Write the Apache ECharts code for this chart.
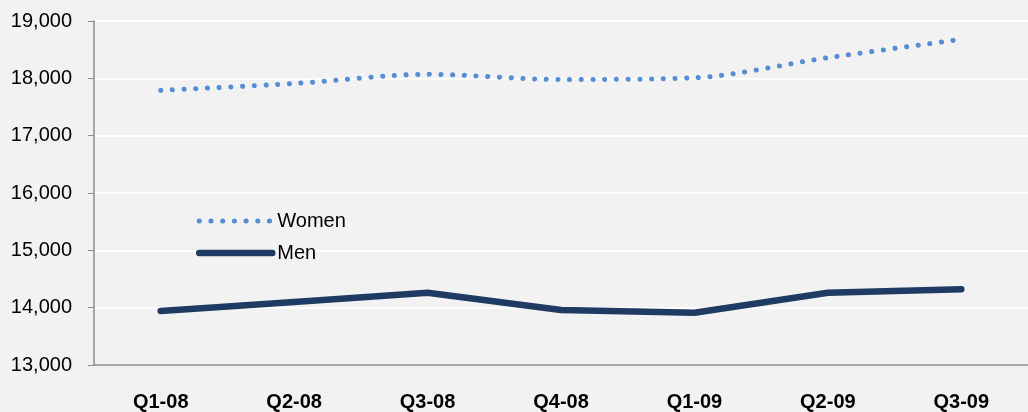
<!DOCTYPE html>
<html>
<head>
<meta charset="utf-8">
<script src="https://cdn.jsdelivr.net/npm/echarts@6/dist/echarts.min.js"></script>
<style>
html, body { margin: 0; padding: 0; background: #f2f2f2; }
#chart { width: 1028px; height: 412px; }
</style>
</head>
<body>
<div id="chart"></div>
<script>
const quarters = ['Q1-08', 'Q2-08', 'Q3-08', 'Q4-08', 'Q1-09', 'Q2-09', 'Q3-09']
const women = [17790, 17910, 18070, 17980, 18010, 18360, 18680]
const men = [13940, 14100, 14260, 13960, 13910, 14260, 14320]

const myChart = echarts.init(document.getElementById('chart'))

const womenLine = { color: '#558ed5', width: 5, type: [0.1, 11.6], cap: 'round' }
const menLine = { color: '#1f3b63', width: 6.5, cap: 'round', join: 'round' }

const option = {
	backgroundColor: '#f2f2f2',
	animation: false,
	grid: { left: 94, top: 21, width: 945, height: 347 },
	legend: {
		orient: 'vertical',
		left: 191,
		top: 206,
		itemWidth: 73,
		itemHeight: 14,
		itemGap: 12,
		itemStyle: { opacity: 0 },
		textStyle: { fontFamily: 'Liberation Sans, Arial', fontSize: 20, color: '#000' },
		data: [
			{ name: 'Women', lineStyle: womenLine },
			{ name: 'Men', lineStyle: menLine }
		]
	},
	xAxis: {
		type: 'category',
		data: quarters,
		boundaryGap: true,
		axisLine: { lineStyle: { color: '#8c8c8c', width: 1.5 } },
		axisTick: { length: 5, lineStyle: { color: '#8c8c8c' } },
		axisLabel: {
			margin: 27,
			fontFamily: 'Liberation Sans, Arial',
			fontSize: 20,
			fontWeight: 'bold',
			color: '#000'
		},
		splitLine: { show: false }
	},
	yAxis: {
		type: 'value',
		min: 13000,
		max: 19000,
		interval: 1000,
		axisLine: { show: true, lineStyle: { color: '#8c8c8c', width: 1.5 } },
		axisTick: { show: true, length: 6, inside: false, lineStyle: { color: '#8c8c8c' } },
		axisLabel: {
			margin: 22,
			fontFamily: 'Liberation Sans, Arial',
			fontSize: 20,
			color: '#000',
			formatter: v => v.toLocaleString('en-US')
		},
		splitLine: { lineStyle: { color: '#ffffff', width: 2 } }
	},
	series: [
		{
			name: 'Women',
			type: 'line',
			data: women,
			smooth: 0.3,
			symbol: 'none',
			lineStyle: womenLine,
			itemStyle: { color: '#558ed5' }
		},
		{
			name: 'Men',
			type: 'line',
			data: men,
			symbol: 'none',
			lineStyle: menLine,
			itemStyle: { color: '#1f3b63' }
		}
	]
}

myChart.setOption(option)
</script>
</body>
</html>
